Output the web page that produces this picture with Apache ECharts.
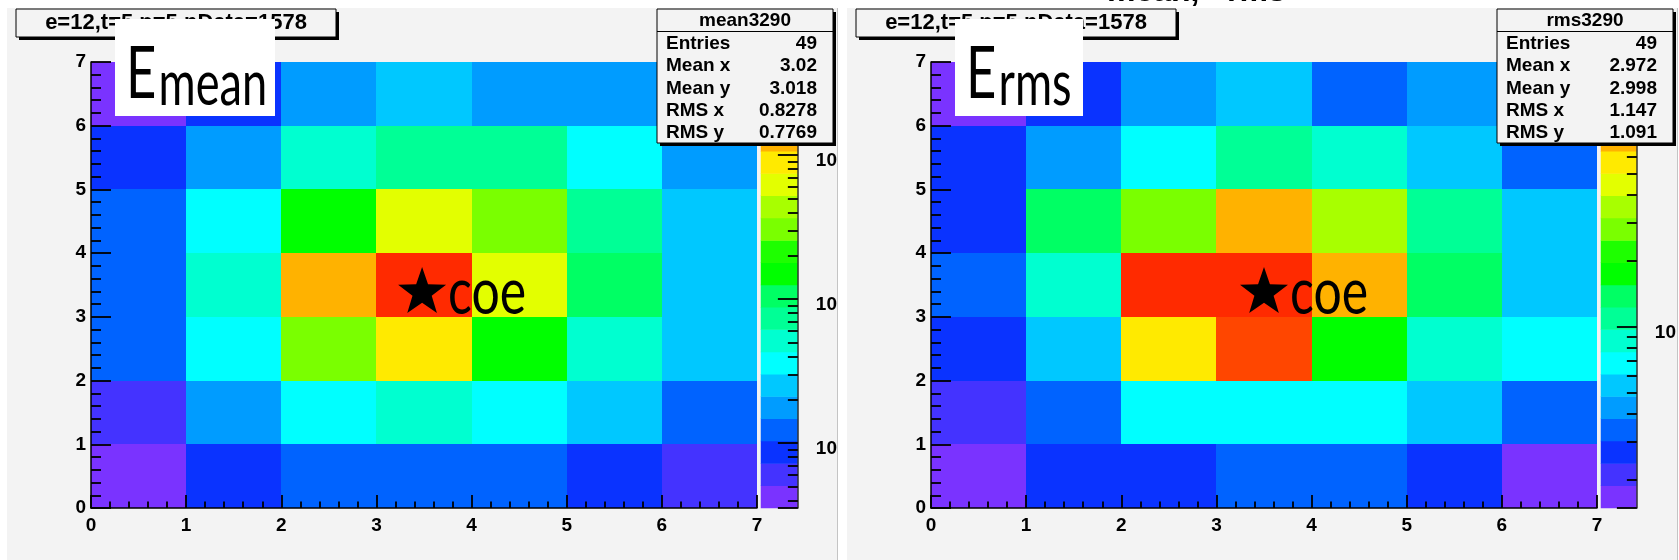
<!DOCTYPE html>
<html><head><meta charset="utf-8">
<script src="https://cdn.jsdelivr.net/npm/echarts@6/dist/echarts.min.js"></script>
<style>
html,body{margin:0;padding:0;background:#fff;width:1679px;height:560px;overflow:hidden;}
.bg{position:absolute;top:8px;height:552px;width:830px;background:#f3f3f3;border-right:1px solid #c4c4c4;}
.panel{position:absolute;top:0;height:560px;overflow:hidden;}
</style></head><body>
<div class="bg" style="left:7px"></div>
<div class="bg" style="left:847px"></div>
<div id="p1" class="panel" style="left:0;width:840px"></div>
<div id="p2" class="panel" style="left:840px;width:839px"></div>
<script>
// ---------------- data ----------------
// contour level (0..19) of every cell, rows y=0..6 (bottom to top), columns x=0..6
const meanLevels = [
  [0, 2, 3, 3, 3, 2, 1],
  [1, 4, 6, 7, 6, 5, 3],
  [3, 6, 12, 15, 10, 7, 5],
  [3, 7, 16, 19, 14, 9, 5],
  [3, 6, 10, 14, 12, 8, 5],
  [2, 4, 7, 8, 8, 6, 4],
  [0, 2, 4, 5, 4, 4, 4]
];
const rmsLevels = [
  [0, 2, 2, 3, 3, 2, 0],
  [1, 3, 6, 6, 6, 5, 3],
  [2, 5, 15, 18, 10, 7, 6],
  [3, 7, 19, 19, 16, 9, 5],
  [2, 9, 12, 16, 13, 8, 5],
  [2, 4, 6, 8, 7, 5, 3],
  [0, 2, 4, 5, 3, 4, 3]
];
const levelColors = ['#7a33ff','#4433ff','#0a33ff','#0063ff','#009cff','#00c8ff','#00ffff','#00ffd0','#00ff96','#00ff64',
                     '#00ff00','#1eff00','#7aff00','#a8ff00','#e3ff00','#ffea00','#ffb200','#ff8200','#ff4600','#ff2a00'];
const meanBarRange = [3.54, 4430];
const rmsBarRange = [1.49, 162];
const meanCoe = [3.48, 3.42];
const rmsCoe = [3.50, 3.42];
const coeText = 'coe';
const titleText = 'e=12,t=5,p=5,nData=1578';
const statsLabels = ['Entries', 'Mean x', 'Mean y', 'RMS x', 'RMS y'];
const meanStatsName = 'mean3290';
const meanStats = ['49', '3.02', '3.018', '0.8278', '0.7769'];
const rmsStatsName = 'rms3290';
const rmsStats = ['49', '2.972', '2.998', '1.147', '1.091'];
const tickLabels = ['0','1','2','3','4','5','6','7'];

// ---------------- drawing ----------------
const STAR = 'path://M0,-50L11.76,-16.18L47.55,-15.45L19.02,6.18L29.39,40.45L0,20L-29.39,40.45L-19.02,6.18L-47.55,-15.45L-11.76,-16.18Z';
const F = 'Liberation Sans';
const lbl = {fontFamily: F, fontWeight: 'bold', fontSize: 19, color: '#000'};
const tickStyle = {color: '#000', width: 1.8};
const isDecade = v => Math.abs(Math.log10(v) - Math.round(Math.log10(v))) < 1e-6;

function overlay(c) {
  const g = [];
  const Z = 2;
  (c.topTexts || []).forEach(t => g.push({type: 'text', zlevel: Z, x: t.x, y: -8, z: 100,
    style: {text: t.text, font: 'bold 32px "Liberation Sans"', fill: '#000', verticalAlign: 'middle'}}));
  g.push({type: 'rect', zlevel: Z, shape: {x: 19, y: 12, width: 320, height: 28}, style: {fill: '#000'}, z: 100});
  g.push({type: 'rect', zlevel: Z, shape: {x: 16, y: 9, width: 320, height: 28}, style: {fill: '#f3f3f3', stroke: '#000', lineWidth: 1}, z: 101});
  g.push({type: 'text', zlevel: Z, x: 176, y: 23, z: 102, style: {text: titleText, font: 'bold 22px "Liberation Sans"', fill: '#000', align: 'center', verticalAlign: 'middle'}});
  g.push({type: 'rect', zlevel: Z, shape: {x: 115, y: 19, width: c.eBoxW, height: 97}, style: {fill: '#fff'}, z: 110});
  g.push({type: 'group', zlevel: Z, x: 126, y: 0, scaleX: 0.74, z: 111, children: [
    {type: 'text', zlevel: Z, x: 0, y: 75, z: 111, style: {text: 'E', font: '71px Lato', fill: '#000', verticalAlign: 'middle'}},
    {type: 'text', zlevel: Z, x: 44, y: 85, z: 111, style: {text: c.sub, font: '61px Lato', fill: '#000', verticalAlign: 'middle'}}
  ]});
  g.push({type: 'rect', zlevel: Z, shape: {x: 660, y: 12, width: 176, height: 134}, style: {fill: '#000'}, z: 100});
  g.push({type: 'rect', zlevel: Z, shape: {x: 657, y: 9, width: 176, height: 134}, style: {fill: '#f3f3f3', stroke: '#000', lineWidth: 1}, z: 101});
  g.push({type: 'line', zlevel: Z, shape: {x1: 657, y1: 31.5, x2: 833, y2: 31.5}, style: {stroke: '#000', lineWidth: 1}, z: 102});
  g.push({type: 'text', zlevel: Z, x: 745, y: 21, z: 102, style: {text: c.statsName, font: 'bold 19px "Liberation Sans"', fill: '#000', align: 'center', verticalAlign: 'middle'}});
  statsLabels.forEach((s, i) => {
    g.push({type: 'text', zlevel: Z, x: 666, y: 44 + i * 22.2, z: 102, style: {text: s, font: 'bold 19px "Liberation Sans"', fill: '#000', verticalAlign: 'middle'}});
    g.push({type: 'text', zlevel: Z, x: 817, y: 44 + i * 22.2, z: 102, style: {text: c.stats[i], font: 'bold 19px "Liberation Sans"', fill: '#000', align: 'right', verticalAlign: 'middle'}});
  });
  return g;
}

function cellItem(params, api) {
  const x = api.value(0), y = api.value(1);
  const a = api.coord([x, y + 1]);
  const b = api.coord([x + 1, y]);
  const x0 = Math.round(a[0]), y0 = Math.round(a[1]), x1 = Math.round(b[0]), y1 = Math.round(b[1]);
  return {type: 'rect', shape: {x: x0, y: y0, width: x1 - x0, height: y1 - y0},
    style: {fill: api.visual('color')}};
}

function makeOption(c) {
  const cells = [];
  c.levels.forEach((row, y) => row.forEach((k, x) => cells.push([x, y, k])));
  const bands = levelColors.map((_, k) => [0, k, k]);
  const valAxisCommon = {
    min: 0, max: 7, interval: 1, zlevel: 1, z: 10,
    axisLine: {show: true, onZero: false, lineStyle: {color: '#000', width: 1.5}},
    splitLine: {show: false}, minorSplitLine: {show: false}
  };
  return {
    animation: false,
    backgroundColor: 'transparent',
    grid: [
      {left: 91, top: 62, width: 666, height: 446},
      {left: 761, top: 62, width: 38, height: 446}
    ],
    xAxis: [
      Object.assign({type: 'value', gridIndex: 0, position: 'bottom',
        axisTick: {show: true, inside: true, length: 13, lineStyle: tickStyle},
        minorTick: {show: true, splitNumber: 5, length: 6.5, lineStyle: tickStyle},
        axisLabel: Object.assign({}, lbl, {margin: 8, formatter: v => tickLabels[Math.round(v)]})}, valAxisCommon),
      {type: 'category', gridIndex: 1, data: ['c'], show: false}
    ],
    yAxis: [
      Object.assign({type: 'value', gridIndex: 0, position: 'left',
        axisTick: {show: true, inside: true, length: 20, lineStyle: tickStyle},
        minorTick: {show: true, splitNumber: 5, length: 10, lineStyle: tickStyle},
        axisLabel: Object.assign({}, lbl, {margin: 5, formatter: v => tickLabels[Math.round(v)]})}, valAxisCommon),
      {type: 'category', gridIndex: 1, data: levelColors.map((_, k) => String(k)), show: false},
      {type: 'log', logBase: 10, gridIndex: 1, position: 'right', min: c.barRange[0], max: c.barRange[1], zlevel: 1, z: 10,
        axisLine: {show: true, onZero: false, lineStyle: {color: '#333', width: 1.5}},
        axisTick: {show: true, inside: true, length: 20, lineStyle: tickStyle},
        minorTick: {show: true, splitNumber: 9, length: 10, lineStyle: tickStyle},
        splitLine: {show: false}, minorSplitLine: {show: false},
        axisLabel: Object.assign({}, lbl, {margin: 18, showMinLabel: false, showMaxLabel: false, lineHeight: 11,
          formatter: v => isDecade(v) ? '\n10' : ''})}
    ],
    visualMap: {type: 'piecewise', show: false, dimension: 2, seriesIndex: [0, 1],
      pieces: levelColors.map((col, k) => ({value: k, color: col}))},
    series: [
      {type: 'custom', xAxisIndex: 0, yAxisIndex: 0, data: cells, renderItem: cellItem,
        encode: {x: 0, y: 1}, emphasis: {disabled: true}, silent: true},
      {type: 'heatmap', xAxisIndex: 1, yAxisIndex: 1, data: bands, emphasis: {disabled: true}, itemStyle: {borderWidth: 0}},
      {type: 'scatter', xAxisIndex: 0, yAxisIndex: 0, data: [c.coe], symbol: STAR, symbolSize: [48, 46], z: 20,
        itemStyle: {color: '#000', opacity: 1}, emphasis: {disabled: true}}
    ],
    graphic: overlay(c)
  };
}

function build(el, c) {
  const chart = echarts.init(document.getElementById(el), null, {renderer: 'canvas'});
  chart.setOption(makeOption(c));
  const p = chart.convertToPixel({xAxisIndex: 0, yAxisIndex: 0}, c.coe);
  const g = overlay(c);
  g.push({type: 'group', x: p[0] + 26, y: p[1] + 3, scaleX: 0.78, z: 30, children: [
    {type: 'text', x: 0, y: 0, z: 30, style: {text: coeText, font: '64px Lato', fill: '#000', verticalAlign: 'middle'}}
  ]});
  chart.setOption({graphic: g});
  return chart;
}

build('p1', {levels: meanLevels, barRange: meanBarRange, coe: meanCoe,
  statsName: meanStatsName, stats: meanStats, sub: 'mean', eBoxW: 160});
build('p2', {levels: rmsLevels, barRange: rmsBarRange, coe: rmsCoe,
  statsName: rmsStatsName, stats: rmsStats, sub: 'rms', eBoxW: 128,
  topTexts: [{x: 267, text: 'mean,'}, {x: 387, text: 'rms'}]});
</script></body></html>
